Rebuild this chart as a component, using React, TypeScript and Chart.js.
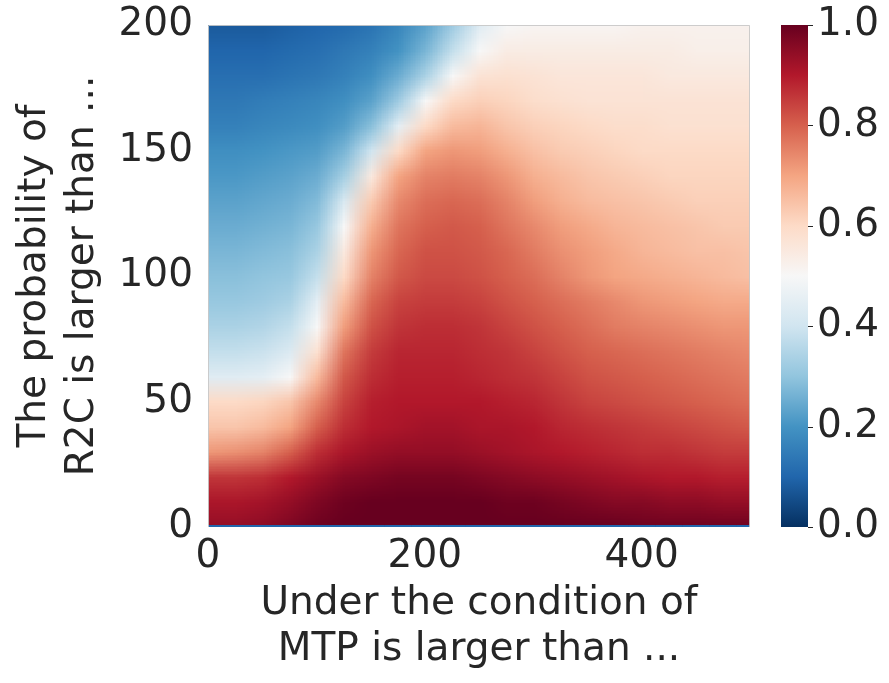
import React, { useEffect, useRef } from 'react';
import { Chart, registerables } from 'chart.js';

Chart.register(...registerables);

// ---- data ----
const xCategories = [0, 25, 50, 75, 100, 125, 150, 175, 200, 225, 250, 275, 300, 325, 350, 375, 400, 425, 450, 475, 500];
const yLevels = [200, 190, 180, 170, 160, 150, 140, 130, 120, 110, 100, 90, 80, 70, 60, 50, 40, 30, 20, 10, 0];
const xTickValues = [0, 200, 400];
const yTickValues = [0, 50, 100, 150, 200];
const colorbarTicks = [0, 0.2, 0.4, 0.6, 0.8, 1.0];
const xTitle = ['Under the condition of', 'MTP is larger than ...'];
const yTitle = ['The probability of', 'R2C is larger than ...'];

const r200 = [0.08, 0.08, 0.08, 0.09, 0.10, 0.11, 0.13, 0.17, 0.23, 0.32, 0.44, 0.50, 0.51, 0.51, 0.51, 0.51, 0.52, 0.52, 0.52, 0.52, 0.52];
const r190 = [0.10, 0.10, 0.10, 0.11, 0.12, 0.14, 0.16, 0.20, 0.27, 0.38, 0.50, 0.54, 0.54, 0.54, 0.54, 0.54, 0.54, 0.54, 0.53, 0.53, 0.53];
const r180 = [0.12, 0.12, 0.12, 0.13, 0.14, 0.16, 0.19, 0.25, 0.34, 0.50, 0.57, 0.58, 0.57, 0.56, 0.56, 0.56, 0.56, 0.55, 0.55, 0.55, 0.55];
const r170 = [0.14, 0.14, 0.15, 0.16, 0.17, 0.19, 0.23, 0.32, 0.50, 0.60, 0.62, 0.61, 0.59, 0.58, 0.57, 0.57, 0.57, 0.57, 0.57, 0.57, 0.57];
const r160 = [0.16, 0.16, 0.17, 0.18, 0.19, 0.22, 0.29, 0.45, 0.60, 0.66, 0.67, 0.64, 0.62, 0.61, 0.60, 0.59, 0.59, 0.58, 0.58, 0.58, 0.58];
const r150 = [0.19, 0.19, 0.20, 0.21, 0.22, 0.27, 0.40, 0.60, 0.70, 0.72, 0.71, 0.68, 0.65, 0.63, 0.62, 0.61, 0.60, 0.60, 0.60, 0.60, 0.60];
const r140 = [0.21, 0.21, 0.22, 0.23, 0.25, 0.33, 0.55, 0.70, 0.75, 0.76, 0.75, 0.72, 0.68, 0.66, 0.64, 0.63, 0.62, 0.61, 0.61, 0.61, 0.61];
const r130 = [0.23, 0.23, 0.24, 0.25, 0.28, 0.42, 0.63, 0.74, 0.78, 0.79, 0.78, 0.75, 0.71, 0.68, 0.66, 0.65, 0.64, 0.63, 0.62, 0.62, 0.62];
const r120 = [0.25, 0.25, 0.26, 0.27, 0.31, 0.50, 0.68, 0.77, 0.80, 0.81, 0.80, 0.77, 0.74, 0.71, 0.69, 0.67, 0.66, 0.65, 0.64, 0.63, 0.63];
const r110 = [0.27, 0.27, 0.28, 0.29, 0.34, 0.55, 0.72, 0.79, 0.82, 0.82, 0.81, 0.79, 0.76, 0.73, 0.71, 0.69, 0.67, 0.66, 0.65, 0.65, 0.64];
const r100 = [0.29, 0.29, 0.30, 0.31, 0.38, 0.60, 0.75, 0.81, 0.83, 0.83, 0.82, 0.80, 0.78, 0.75, 0.72, 0.70, 0.69, 0.68, 0.67, 0.66, 0.65];
const r90 = [0.31, 0.31, 0.32, 0.34, 0.45, 0.66, 0.79, 0.84, 0.85, 0.85, 0.84, 0.82, 0.80, 0.78, 0.76, 0.74, 0.72, 0.71, 0.70, 0.69, 0.69];
const r80 = [0.34, 0.34, 0.35, 0.38, 0.50, 0.71, 0.82, 0.86, 0.87, 0.87, 0.86, 0.84, 0.82, 0.80, 0.78, 0.76, 0.75, 0.74, 0.73, 0.72, 0.72];
const r70 = [0.38, 0.38, 0.39, 0.43, 0.58, 0.77, 0.85, 0.88, 0.88, 0.88, 0.87, 0.86, 0.84, 0.82, 0.80, 0.79, 0.78, 0.77, 0.76, 0.75, 0.74];
const r60 = [0.44, 0.44, 0.45, 0.50, 0.66, 0.81, 0.87, 0.89, 0.89, 0.89, 0.88, 0.87, 0.86, 0.84, 0.82, 0.81, 0.80, 0.79, 0.78, 0.77, 0.76];
const r50 = [0.60, 0.60, 0.61, 0.64, 0.74, 0.84, 0.89, 0.90, 0.90, 0.90, 0.90, 0.89, 0.88, 0.86, 0.84, 0.83, 0.82, 0.81, 0.80, 0.79, 0.78];
const r40 = [0.64, 0.64, 0.66, 0.70, 0.80, 0.87, 0.90, 0.91, 0.92, 0.92, 0.91, 0.91, 0.90, 0.88, 0.87, 0.86, 0.85, 0.84, 0.83, 0.82, 0.81];
const r30 = [0.72, 0.73, 0.75, 0.80, 0.87, 0.91, 0.93, 0.94, 0.94, 0.94, 0.93, 0.92, 0.91, 0.90, 0.89, 0.88, 0.87, 0.87, 0.86, 0.85, 0.85];
const r20 = [0.86, 0.86, 0.87, 0.90, 0.93, 0.96, 0.97, 0.98, 0.98, 0.98, 0.97, 0.96, 0.95, 0.94, 0.93, 0.92, 0.91, 0.90, 0.90, 0.89, 0.89];
const r10 = [0.91, 0.91, 0.92, 0.94, 0.97, 0.99, 1.00, 1.00, 1.00, 1.00, 1.00, 0.99, 0.99, 0.98, 0.97, 0.96, 0.96, 0.95, 0.95, 0.94, 0.94];
const r0 = [0.94, 0.94, 0.95, 0.97, 0.99, 1.00, 1.00, 1.00, 1.00, 1.00, 1.00, 1.00, 1.00, 1.00, 1.00, 1.00, 0.99, 0.99, 0.99, 0.99, 0.99];
// thin strip drawn at the very bottom edge (appears blue)
const bottomEdgeRow = [0.1, 0.1, 0.1, 0.1, 0.1, 0.1, 0.1, 0.1, 0.1, 0.1, 0.1, 0.1, 0.1, 0.1, 0.1, 0.1, 0.1, 0.1, 0.1, 0.1, 0.1];

const gridRows = [r200, r190, r180, r170, r160, r150, r140, r130, r120, r110, r100, r90, r80, r70, r60, r50, r40, r30, r20, r10, r0];

// RdBu_r colormap anchors
const RDBU_R = [
  [5, 48, 97], [33, 102, 172], [67, 147, 195], [146, 197, 222], [209, 229, 240],
  [247, 247, 247], [253, 219, 199], [244, 165, 130], [214, 96, 77], [178, 24, 43], [103, 0, 31],
];

function cmap(v: number): number[] {
  const t = Math.max(0, Math.min(1, v)) * (RDBU_R.length - 1);
  const i = Math.min(Math.floor(t), RDBU_R.length - 2);
  const f = t - i;
  const a = RDBU_R[i], b = RDBU_R[i + 1];
  return [0, 1, 2].map((k) => Math.round(a[k] + (b[k] - a[k]) * f));
}

const TEXT = '#262626';
const FONT = 'DejaVu Sans';

const heatmapPlugin = {
  id: 'heatmap',
  beforeDatasetsDraw(chart: any) {
    const { ctx, chartArea, scales } = chart;
    const xs = scales.x, ys = scales.y;
    const nx = xCategories.length, ny = yLevels.length;
    const off = document.createElement('canvas');
    off.width = nx; off.height = ny;
    const octx = off.getContext('2d')!;
    const img = octx.createImageData(nx, ny);
    for (let j = 0; j < ny; j++) {
      for (let i = 0; i < nx; i++) {
        const c = cmap(gridRows[j][i]);
        const p = (j * nx + i) * 4;
        img.data[p] = c[0]; img.data[p + 1] = c[1]; img.data[p + 2] = c[2]; img.data[p + 3] = 255;
      }
    }
    octx.putImageData(img, 0, 0);
    const hx = (xCategories[1] - xCategories[0]) / 2;
    const hy = (yLevels[0] - yLevels[1]) / 2;
    const left = xs.getPixelForValue(xCategories[0] - hx);
    const right = xs.getPixelForValue(xCategories[nx - 1] + hx);
    const top = ys.getPixelForValue(yLevels[0] + hy);
    const bottom = ys.getPixelForValue(yLevels[ny - 1] - hy);
    ctx.save();
    ctx.beginPath();
    ctx.rect(chartArea.left, chartArea.top, chartArea.right - chartArea.left, chartArea.bottom - chartArea.top);
    ctx.clip();
    ctx.imageSmoothingEnabled = true;
    ctx.drawImage(off, left, top, right - left, bottom - top);
    // bottom edge strip
    const yb0 = ys.getPixelForValue(0);
    const yb1 = ys.getPixelForValue(0.8);
    for (let i = 0; i < nx; i++) {
      const c = cmap(bottomEdgeRow[i]);
      ctx.fillStyle = `rgb(${c[0]},${c[1]},${c[2]})`;
      const x0 = xs.getPixelForValue(xCategories[i] - hx);
      const x1 = xs.getPixelForValue(xCategories[i] + hx);
      ctx.fillRect(x0, yb1, x1 - x0 + 0.5, yb0 - yb1);
    }
    ctx.restore();
    // light frame
    ctx.save();
    ctx.strokeStyle = 'rgba(200,200,200,0.9)';
    ctx.lineWidth = 1;
    ctx.beginPath();
    ctx.moveTo(chartArea.left + 0.5, chartArea.bottom);
    ctx.lineTo(chartArea.left + 0.5, chartArea.top + 0.5);
    ctx.lineTo(chartArea.right - 0.5, chartArea.top + 0.5);
    ctx.lineTo(chartArea.right - 0.5, chartArea.bottom);
    ctx.stroke();
    ctx.restore();
  },
  afterDraw(chart: any) {
    const { ctx, chartArea, scales } = chart;
    const cb = scales.cb;
    const cbLeft = chartArea.right + 31;
    const cbWidth = 27;
    const top = cb.getPixelForValue(1);
    const bottom = cb.getPixelForValue(0);
    const grad = ctx.createLinearGradient(0, bottom, 0, top);
    RDBU_R.forEach((c, i) => grad.addColorStop(i / (RDBU_R.length - 1), `rgb(${c[0]},${c[1]},${c[2]})`));
    ctx.save();
    ctx.fillStyle = grad;
    ctx.fillRect(cbLeft, top, cbWidth, bottom - top);
    ctx.strokeStyle = TEXT;
    ctx.fillStyle = TEXT;
    ctx.lineWidth = 1;
    ctx.font = `39px "${FONT}"`;
    ctx.textAlign = 'left';
    ctx.textBaseline = 'middle';
    colorbarTicks.forEach((t) => {
      const yp = cb.getPixelForValue(t);
      const y = Math.round(yp) + 0.5;
      ctx.beginPath();
      ctx.moveTo(cbLeft + cbWidth, y);
      ctx.lineTo(cbLeft + cbWidth + 5, y);
      ctx.stroke();
      ctx.fillText(t.toFixed(1), cbLeft + cbWidth + 9, yp);
    });
    ctx.restore();
  },
};

export default function App() {
  const ref = useRef<HTMLCanvasElement>(null);
  useEffect(() => {
    const points: any[] = [];
    yLevels.forEach((yv, j) => xCategories.forEach((xv, i) => points.push({ x: xv, y: yv, v: gridRows[j][i] })));
    const chart = new Chart(ref.current!, {
      type: 'scatter',
      data: { datasets: [{ data: points, pointRadius: 0, pointHoverRadius: 0, showLine: false }] },
      options: {
        animation: false,
        responsive: false,
        devicePixelRatio: 1,
        events: [],
        layout: { padding: { top: 25, left: 0, right: 0, bottom: 0 } },
        plugins: { legend: { display: false }, tooltip: { enabled: false } },
        scales: {
          x: {
            type: 'linear', position: 'bottom', min: 0, max: 500,
            afterBuildTicks: (s: any) => { s.ticks = xTickValues.map((v) => ({ value: v })); },
            afterFit: (s: any) => { s.height = 156; },
            grid: { display: false, drawTicks: false },
            border: { display: false },
            ticks: { color: TEXT, font: { family: FONT, size: 39 }, padding: 6, maxRotation: 0 },
            title: {
              display: true, text: xTitle, color: TEXT,
              font: { family: FONT, size: 39, lineHeight: 46 / 39 },
              padding: { top: 0, bottom: 10 },
            },
          },
          y: {
            type: 'linear', position: 'left', min: 0, max: 200,
            afterBuildTicks: (s: any) => { s.ticks = yTickValues.map((v) => ({ value: v })); },
            afterFit: (s: any) => { s.width = 208; },
            grid: { display: false, drawTicks: false },
            border: { display: false },
            ticks: { color: TEXT, font: { family: FONT, size: 39, lineHeight: 0.2 }, padding: 15 },
            title: {
              display: true, text: yTitle, color: TEXT,
              font: { family: FONT, size: 39, lineHeight: 48 / 39 },
              padding: { top: 11, bottom: 0 },
            },
          },
          cb: {
            type: 'linear', position: 'right', min: 0, max: 1,
            afterBuildTicks: (s: any) => { s.ticks = colorbarTicks.map((v) => ({ value: v })); },
            afterFit: (s: any) => { s.width = 139; },
            grid: { display: false, drawTicks: false },
            border: { display: false },
            ticks: { display: false },
          },
        },
      },
      plugins: [heatmapPlugin],
    });
    return () => chart.destroy();
  }, []);
  return (
    <div style={{ position: 'absolute', left: 0, top: 0, width: 889, height: 683, background: '#fff' }}>
      <canvas ref={ref} width={889} height={683} style={{ width: 889, height: 683, display: 'block' }} />
    </div>
  );
}
